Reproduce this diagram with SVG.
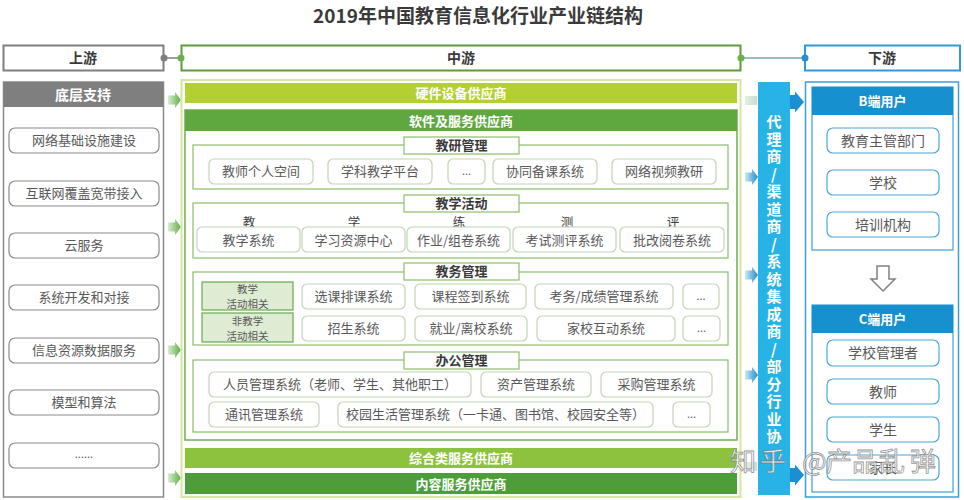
<svg xmlns="http://www.w3.org/2000/svg" width="964" height="500" viewBox="0 0 964 500">
<defs>
<style>
text{font-family:"Noto Sans CJK SC","Noto Sans",sans-serif;text-anchor:middle;}
.title{font-size:19px;font-weight:bold;fill:#3a3a3a;}
.hd{font-size:14px;font-weight:bold;fill:#3a3a3a;}
.lbox{fill:#fff;stroke:#8a8a8a;stroke-width:1.2;}
.ltx{font-size:13px;fill:#595959;}
.bar{font-size:13px;font-weight:bold;fill:#fff;}
.sec{fill:none;stroke:#8cbf6a;stroke-width:1.2;}
.tab{fill:#fff;stroke:#8cbf6a;stroke-width:1.2;}
.tabt{font-size:13px;font-weight:bold;fill:#3a3a3a;}
.mbox{fill:#fff;stroke:#c2d5b6;stroke-width:1.2;}
.mtx{font-size:13px;fill:#595959;}
.colh{font-size:12.5px;fill:#404040;}
.glab{fill:#deecd4;stroke:#6aa84f;stroke-width:1.2;}
.gtx{font-size:10.5px;fill:#595959;}
.bbox{fill:#fff;stroke:#4da6d8;stroke-width:1.2;}
.btx{font-size:14px;fill:#595959;}
.vt{font-size:15px;font-weight:bold;fill:#fff;writing-mode:vertical-rl;text-orientation:upright;letter-spacing:2.5px;text-anchor:start;}
.wm{font-size:26px;fill:#fff;fill-opacity:0.85;stroke:#777;stroke-width:0.8;stroke-opacity:0.8;text-anchor:start;}
</style>
<linearGradient id="gg" x1="0" x2="1" y1="0" y2="0"><stop offset="0" stop-color="#d8ecd0"/><stop offset="1" stop-color="#5fae45"/></linearGradient>
<linearGradient id="gb" x1="0" x2="1" y1="0" y2="0"><stop offset="0" stop-color="#cfe6f2"/><stop offset="1" stop-color="#1d8fd0"/></linearGradient>
<linearGradient id="gp" x1="0" x2="1" y1="0" y2="0"><stop offset="0" stop-color="#e3f0dc"/><stop offset="1" stop-color="#c8ded8"/></linearGradient>
<path id="arr" d="M0,-4.5 H7 V-8 L13,0 L7,8 V4.5 H0 Z"/>
<path id="arr2" d="M0,-7 H5 V-10.5 L14,0 L5,10.5 V7 H0 Z"/>
</defs>

<text class="title" x="478" y="23">2019年中国教育信息化行业产业链结构</text>

<!-- header row -->
<g id="hdr-up"><rect x="3.5" y="45.5" width="160" height="25" fill="#fff" stroke="#7f7f7f" stroke-width="2"/><text class="hd" x="83" y="63">上游</text></g>
<g id="hdr-mid"><rect x="181.5" y="45.5" width="559" height="25" fill="#fff" stroke="#5b9b3c" stroke-width="2"/><text class="hd" x="461" y="63">中游</text></g>
<g id="hdr-down"><rect x="805" y="45.5" width="155" height="25" fill="#fff" stroke="#2e9bd6" stroke-width="2"/><text class="hd" x="882" y="63">下游</text></g>

<g id="connectors">
<line x1="164" y1="58" x2="181" y2="58" stroke="#7f7f7f" stroke-width="1.5"/>
<circle cx="164" cy="58" r="3.5" fill="#7f7f7f"/><circle cx="181" cy="58" r="3.5" fill="#6ab04c"/>
<line x1="741" y1="58" x2="805" y2="58" stroke="#7fa7a7" stroke-width="1.5"/>
<circle cx="741" cy="58" r="3.5" fill="#6ab04c"/><circle cx="805" cy="58" r="3.5" fill="#2a8ccc"/>
<use href="#arr" x="168" y="100" fill="url(#gg)"/>
<use href="#arr" x="168" y="227" fill="url(#gg)"/>
<use href="#arr" x="168" y="350" fill="url(#gg)"/>
<use href="#arr" x="168" y="478" fill="url(#gg)"/>
<rect x="745" y="96" width="12" height="9" fill="url(#gp)"/>
<use href="#arr" x="745" y="177" fill="url(#gb)"/>
<use href="#arr" x="745" y="275" fill="url(#gb)"/>
<use href="#arr" x="745" y="375" fill="url(#gb)"/>
<rect x="745" y="462" width="12" height="9" fill="url(#gp)"/>
<use href="#arr2" x="790" y="102" fill="#1a8fd1"/>
<use href="#arr2" x="790" y="475" fill="#1a8fd1"/>
</g>

<!-- upstream -->
<g id="upstream">
<rect x="3.5" y="82" width="160" height="415" fill="#fff" stroke="#8a8a8a" stroke-width="1.5"/>
<rect x="3.5" y="82" width="160" height="25" fill="#7f7f7f"/>
<text class="bar" style="font-size:14px" x="83" y="99.5">底层支持</text>
</g>
<g id="u1"><rect class="lbox" x="9" y="128" width="150" height="25" rx="6"/><text class="ltx" x="84" y="145">网络基础设施建设</text></g>
<g id="u2"><rect class="lbox" x="9" y="181" width="150" height="25" rx="6"/><text class="ltx" x="84" y="198">互联网覆盖宽带接入</text></g>
<g id="u3"><rect class="lbox" x="9" y="233" width="150" height="25" rx="6"/><text class="ltx" x="84" y="250">云服务</text></g>
<g id="u4"><rect class="lbox" x="9" y="285" width="150" height="25" rx="6"/><text class="ltx" x="84" y="302">系统开发和对接</text></g>
<g id="u5"><rect class="lbox" x="9" y="338" width="150" height="25" rx="6"/><text class="ltx" x="84" y="355">信息资源数据服务</text></g>
<g id="u6"><rect class="lbox" x="9" y="390" width="150" height="25" rx="6"/><text class="ltx" x="84" y="407">模型和算法</text></g>
<g id="u7"><rect class="lbox" x="9" y="443" width="150" height="25" rx="6"/><text class="ltx" style="font-size:11px" x="84" y="458">......</text></g>

<!-- midstream -->
<g id="midstream">
<rect x="181.5" y="80" width="559" height="417" fill="#fdfef9" stroke="#d5e5a6" stroke-width="2"/>
</g>
<g id="hw"><rect x="185" y="83" width="552" height="20" fill="#b4cf31"/><text class="bar" x="461" y="98">硬件设备供应商</text></g>
<g id="sw">
<rect x="185" y="110" width="552" height="330" fill="#fff" stroke="#72ad50" stroke-width="1.5"/>
<rect x="185" y="110" width="552" height="21" fill="#5ea83f"/><text class="bar" x="461" y="125.5">软件及服务供应商</text>
</g>

<g id="sec-jy">
<rect class="sec" x="193" y="145" width="535" height="44"/>
<rect class="tab" x="404" y="137" width="115" height="17"/><text class="tabt" x="461.5" y="150">教研管理</text>
<rect class="mbox" x="209" y="159" width="104" height="25" rx="5"/><text class="mtx" x="261" y="176">教师个人空间</text>
<rect class="mbox" x="328" y="159" width="104" height="25" rx="5"/><text class="mtx" x="380" y="176">学科教学平台</text>
<rect class="mbox" x="448" y="159" width="37" height="25" rx="5"/><text class="mtx" style="font-size:11px" x="466.5" y="175">...</text>
<rect class="mbox" x="493" y="159" width="104" height="25" rx="5"/><text class="mtx" x="545" y="176">协同备课系统</text>
<rect class="mbox" x="612" y="159" width="104" height="25" rx="5"/><text class="mtx" x="664" y="176">网络视频教研</text>
</g>

<g id="sec-jx">
<rect class="sec" x="193" y="203" width="535" height="55"/>
<rect class="tab" x="404" y="195" width="115" height="17"/><text class="tabt" x="461.5" y="207.5">教学活动</text>
<text class="colh" x="249" y="226.5">教</text>
<text class="colh" x="354" y="226.5">学</text>
<text class="colh" x="459" y="226.5">练</text>
<text class="colh" x="567" y="226.5">测</text>
<text class="colh" x="673" y="226.5">评</text>
<rect class="mbox" x="197" y="227" width="103" height="25" rx="5"/><text class="mtx" x="248.5" y="244.5">教学系统</text>
<rect class="mbox" x="302" y="227" width="103" height="25" rx="5"/><text class="mtx" x="353.5" y="244.5">学习资源中心</text>
<rect class="mbox" x="407" y="227" width="103" height="25" rx="5"/><text class="mtx" x="458.5" y="244.5">作业/组卷系统</text>
<rect class="mbox" x="513" y="227" width="103" height="25" rx="5"/><text class="mtx" x="564.5" y="244.5">考试测评系统</text>
<rect class="mbox" x="620" y="227" width="104" height="25" rx="5"/><text class="mtx" x="672" y="244.5">批改阅卷系统</text>
</g>

<g id="sec-jw">
<rect class="sec" x="193" y="272" width="535" height="73"/>
<rect class="tab" x="404" y="263" width="115" height="17"/><text class="tabt" x="461.5" y="276">教务管理</text>
<rect class="glab" x="202" y="282" width="91" height="28"/><text class="gtx" x="247.5" y="293">教学</text><text class="gtx" x="247.5" y="308.3">活动相关</text>
<rect class="glab" x="202" y="313" width="91" height="29"/><text class="gtx" x="247.5" y="324.5">非教学</text><text class="gtx" x="247.5" y="339.8">活动相关</text>
<rect class="mbox" x="302" y="284" width="103" height="25" rx="5"/><text class="mtx" x="353.5" y="301">选课排课系统</text>
<rect class="mbox" x="415" y="284" width="111" height="25" rx="5"/><text class="mtx" x="470.5" y="301">课程签到系统</text>
<rect class="mbox" x="535" y="284" width="138" height="25" rx="5"/><text class="mtx" x="604" y="301">考务/成绩管理系统</text>
<rect class="mbox" x="683" y="284" width="36" height="25" rx="5"/><text class="mtx" style="font-size:11px" x="701" y="300">...</text>
<rect class="mbox" x="302" y="316" width="103" height="25" rx="5"/><text class="mtx" x="353.5" y="333">招生系统</text>
<rect class="mbox" x="415" y="316" width="112" height="25" rx="5"/><text class="mtx" x="471" y="333">就业/离校系统</text>
<rect class="mbox" x="537" y="316" width="138" height="25" rx="5"/><text class="mtx" x="606" y="333">家校互动系统</text>
<rect class="mbox" x="683" y="316" width="37" height="25" rx="5"/><text class="mtx" style="font-size:11px" x="701.5" y="332">...</text>
</g>

<g id="sec-bg">
<rect class="sec" x="193" y="360" width="535" height="72"/>
<rect class="tab" x="404" y="352" width="115" height="17"/><text class="tabt" x="461.5" y="365">办公管理</text>
<rect class="mbox" x="209" y="372" width="262" height="25" rx="5"/><text class="mtx" x="340" y="389">人员管理系统（老师、学生、其他职工）</text>
<rect class="mbox" x="481" y="372" width="110" height="25" rx="5"/><text class="mtx" x="536" y="389">资产管理系统</text>
<rect class="mbox" x="601" y="372" width="111" height="25" rx="5"/><text class="mtx" x="656.5" y="389">采购管理系统</text>
<rect class="mbox" x="209" y="402" width="110" height="25" rx="5"/><text class="mtx" x="264" y="419">通讯管理系统</text>
<rect class="mbox" x="338" y="402" width="315" height="25" rx="5"/><text class="mtx" x="495.5" y="419">校园生活管理系统（一卡通、图书馆、校园安全等）</text>
<rect class="mbox" x="673" y="402" width="37" height="25" rx="5"/><text class="mtx" style="font-size:11px" x="691.5" y="418">...</text>
</g>

<g id="zh"><rect x="185" y="448" width="552" height="20" fill="#8dc23f"/><text class="bar" x="461" y="463">综合类服务供应商</text></g>
<g id="nr"><rect x="185" y="473" width="552" height="21" fill="#4d9e3a"/><text class="bar" x="461" y="488.5">内容服务供应商</text></g>

<!-- agents -->
<g id="agent">
<rect x="758" y="82" width="32" height="413" fill="#27b3e6"/>
<text class="vt" x="774" y="114">代理商/渠道商/系统集成商/部分行业协</text>
</g>

<!-- downstream -->
<g id="downstream"><rect x="805.5" y="82" width="153" height="415" fill="#fff" stroke="#3a9fd6" stroke-width="1.5"/></g>
<g id="buser">
<rect x="812" y="87" width="141" height="163" fill="none" stroke="#3a9fd6" stroke-width="1.2"/>
<rect x="812" y="87" width="141" height="28" fill="#1790d0"/><text class="bar" x="882.5" y="106">B端用户</text>
<rect class="bbox" x="827" y="128" width="112" height="25" rx="6"/><text class="btx" x="883" y="145.5">教育主管部门</text>
<rect class="bbox" x="827" y="170" width="112" height="25" rx="6"/><text class="btx" x="883" y="187.5">学校</text>
<rect class="bbox" x="827" y="212" width="112" height="25" rx="6"/><text class="btx" x="883" y="229.5">培训机构</text>
</g>
<g id="downarrow"><path d="M877,266 H889 V279 H895 L883,291 L871,279 H877 Z" fill="#fff" stroke="#808080" stroke-width="1.5" stroke-linejoin="miter"/></g>
<g id="cuser">
<rect x="812" y="305" width="141" height="187" fill="none" stroke="#3a9fd6" stroke-width="1.2"/>
<rect x="812" y="305" width="141" height="28" fill="#1790d0"/><text class="bar" x="882.5" y="324">C端用户</text>
<rect class="bbox" x="827" y="340" width="112" height="26" rx="6"/><text class="btx" x="883" y="358">学校管理者</text>
<rect class="bbox" x="827" y="379" width="112" height="25" rx="6"/><text class="btx" x="883" y="396.5">教师</text>
<rect class="bbox" x="827" y="417" width="112" height="25" rx="6"/><text class="btx" x="883" y="434.5">学生</text>
<rect class="bbox" x="827" y="455" width="112" height="25" rx="6"/><text class="btx" x="883" y="472.5">家长</text>
</g>

<text class="wm" x="730 760 790 802 826 852 879 910" y="471">知乎 @产品乱弹</text>
</svg>
